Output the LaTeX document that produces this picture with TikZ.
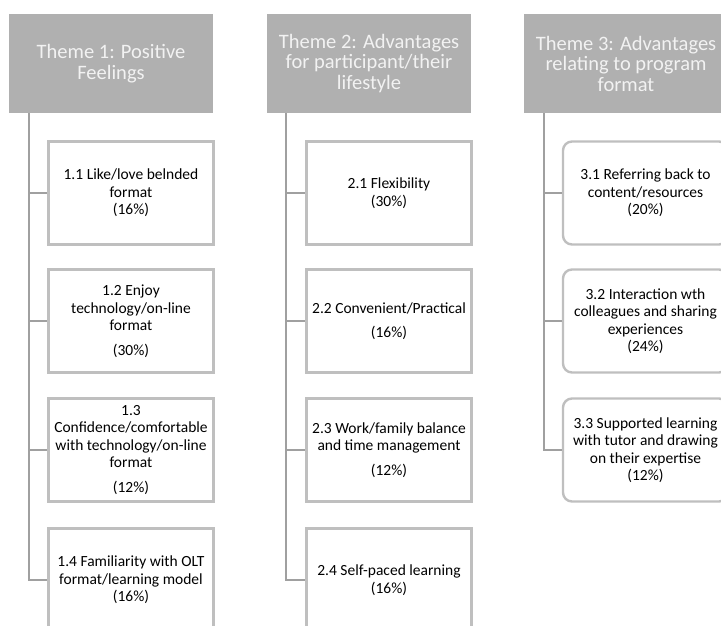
\documentclass[tikz,border=0pt]{standalone}
\usepackage{fontspec}
\setmainfont{Carlito}
\usetikzlibrary{positioning}

\definecolor{headgray}{RGB}{176,176,176}
\definecolor{headtext}{RGB}{242,242,242}
\definecolor{boxline}{RGB}{191,191,191}
\definecolor{trunkgray}{RGB}{160,160,160}

\tikzset{
  themehead/.style={fill=headgray, text=headtext, inner sep=0pt, minimum width=204pt, minimum height=99pt,
    align=center, font=\fontsize{20.5}{20.5}\selectfont},
  itembox/.style={draw=boxline, line width=2.4pt, fill=white, inner sep=0pt, minimum width=165pt, minimum height=103pt,
    align=center, font=\fontsize{15.5}{17.5}\selectfont},
  itemround/.style={itembox, rounded corners=9pt},
  trunk/.style={draw=trunkgray, line width=2.7pt}
}

\begin{document}
\begin{tikzpicture}[x=1pt, y=-1pt]
\useasboundingbox (0,0) rectangle (721,626);
\clip (0,0) rectangle (721,626);

% theme headers
\node[themehead] (h1) at (111,63.5) {Theme 1: Positive\\Feelings};
\node[themehead] (h2) at (369,63.5) {Theme 2: Advantages\\for participant/their\\lifestyle};
\node[themehead] (h3) at (626,63.5) {Theme 3: Advantages\\relating to program\\format};

% theme 1
\node[itembox] (b11) at (131,193) {1.1 Like/love belnded\\format\\(16\%)};
\node[itembox] (b12) at (131,321) {1.2 Enjoy\\technology/on-line\\format\\[7pt](30\%)};
\node[itembox] (b13) at (131,450) {1.3\\Confidence/comfortable\\with technology/on-line\\format\\[7pt](12\%)};
\node[itembox] (b14) at (131,580) {1.4 Familiarity with OLT\\format/learning model\\(16\%)};

% theme 2
\node[itembox] (b21) at (389,193) {2.1 Flexibility\\(30\%)};
\node[itembox] (b22) at (389,321) {2.2 Convenient/Practical\\[7pt](16\%)};
\node[itembox] (b23) at (389,450) {2.3 Work/family balance\\and time management\\[7pt](12\%)};
\node[itembox] (b24) at (389,580) {2.4 Self-paced learning\\(16\%)};

% theme 3
\node[itemround] (b31) at (645.5,193) {3.1 Referring back to\\content/resources\\(20\%)};
\node[itemround] (b32) at (645.5,321) {3.2 Interaction wth\\colleagues and sharing\\experiences\\(24\%)};
\node[itemround] (b33) at (645.5,450) {3.3 Supported learning\\with tutor and drawing\\on their expertise\\(12\%)};

% trunks and branches
\coordinate (t1) at (29,0 |- h1.south);
\coordinate (t2) at (286,0 |- h2.south);
\coordinate (t3) at (544,0 |- h3.south);

\draw[trunk] (t1) |- (b14.west);
\foreach \b in {b11,b12,b13}
  \draw[trunk] (t1 |- \b.west) -- (\b.west);

\draw[trunk] (t2) |- (b24.west);
\foreach \b in {b21,b22,b23}
  \draw[trunk] (t2 |- \b.west) -- (\b.west);

\draw[trunk] (t3) |- (b33.west);
\foreach \b in {b31,b32}
  \draw[trunk] (t3 |- \b.west) -- (\b.west);
\end{tikzpicture}
\end{document}
